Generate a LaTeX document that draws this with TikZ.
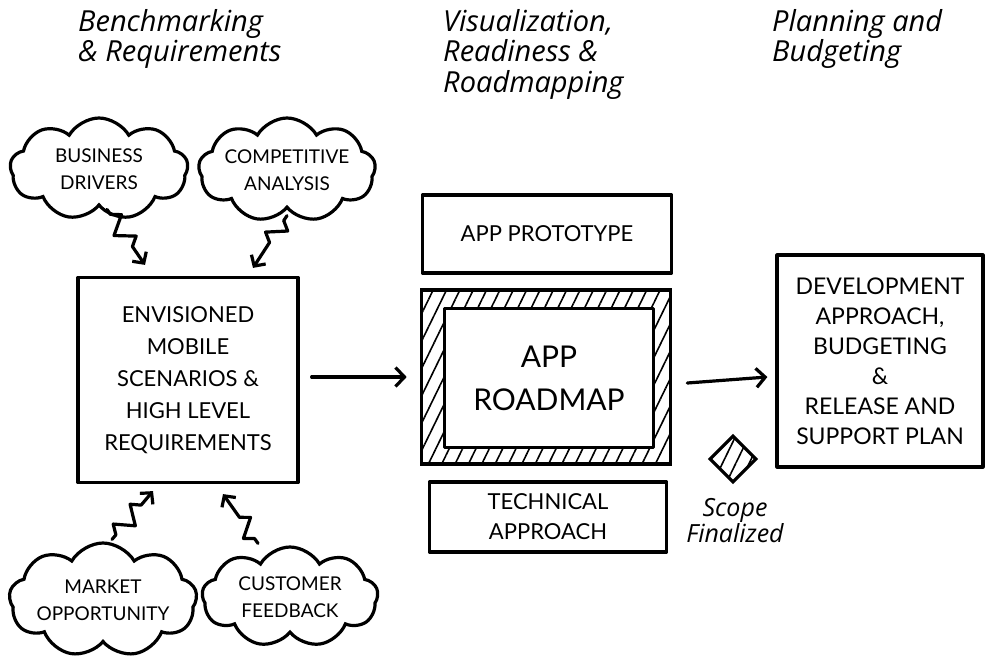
\documentclass[tikz,border=0pt]{standalone}
\usepackage{fontspec}
\setmainfont{Lato}
\newfontfamily\handfont{Open Sans}
\usepackage{tikz}
\usetikzlibrary{decorations.pathmorphing,arrows.meta,shapes.symbols,shapes.geometric,patterns.meta}

\tikzset{
  box/.style={draw,line width=3.2bp,line join=round,fill=white,align=center,inner sep=0pt,font=\fontsize{22bp}{32bp}\selectfont},
  idea/.style={draw,cloud,cloud puffs=9,cloud puff arc=120,cloud ignores aspect,line width=3.2bp,align=center,inner sep=0pt,font=\fontsize{19bp}{27bp}\selectfont},
  squig/.style={-{Straight Barb[length=8bp,width=17bp]},line width=3.2bp,line join=round,line cap=round,decorate,decoration={zigzag,segment length=26bp,amplitude=9bp,pre length=6bp,post length=18bp}},
  flow/.style={-{Straight Barb[length=9bp,width=19bp]},line width=3.2bp,line cap=round},
  phase/.style={anchor=north west,align=left,inner sep=0pt,font=\handfont\itshape\fontsize{29bp}{30.5bp}\selectfont},
  hatch/.style={pattern={Lines[angle=64,distance=12bp,line width=1.6bp]}}
}

\begin{document}
\begin{tikzpicture}
    \useasboundingbox (0,0) rectangle (987bp,-658bp);

    \node (ph1) at (78bp,-9bp)[phase] {Benchmarking\\\& Requirements};
    \node (ph2) at (443bp,-9bp)[phase] {Visualization,\\Readiness \&\\Roadmapping};
    \node (ph3) at (772bp,-9bp)[phase] {Planning and\\Budgeting};

    \node (bd) at (99bp,-169bp)[idea,minimum width=178bp,minimum height=102bp] {BUSINESS\\DRIVERS};
    \node (ca) at (287bp,-170bp)[idea,minimum width=168bp,minimum height=104bp] {COMPETITIVE\\ANALYSIS};
    \node (mo) at (103bp,-600bp)[idea,minimum width=178bp,minimum height=114bp] {MARKET\\OPPORTUNITY};
    \node (cf) at (290bp,-597bp)[idea,minimum width=176bp,minimum height=100bp] {CUSTOMER\\FEEDBACK};

    \node (env) at (188bp,-380bp)[box,minimum width=220bp,minimum height=205bp] {ENVISIONED\\MOBILE\\SCENARIOS \&\\HIGH LEVEL\\REQUIREMENTS};

    \node (proto) at (547bp,-234bp)[box,minimum width=249bp,minimum height=78bp] {APP PROTOTYPE};
    \node (frame) at (546bp,-377bp)[draw,line width=3.2bp,hatch,minimum width=249bp,minimum height=174bp] {};
    \node (map) at (549bp,-378bp)[box,minimum width=209bp,minimum height=139bp,font=\fontsize{30bp}{43bp}\selectfont] {APP\\ROADMAP};
    \node (tech) at (548bp,-517bp)[box,minimum width=237bp,minimum height=70bp,font=\fontsize{22bp}{30bp}\selectfont] {TECHNICAL\\APPROACH};

    \node (gate) at (733bp,-459bp)[draw,diamond,line width=3.2bp,hatch,minimum width=47bp,minimum height=47bp,inner sep=0pt] {};
    \node (scope) at (735bp,-521bp)[align=center,inner sep=0pt,font=\handfont\itshape\fontsize{25bp}{24bp}\selectfont] {Scope\\Finalized};

    \node (dev) at (880bp,-361bp)[box,minimum width=206bp,minimum height=212bp,font=\fontsize{23bp}{30bp}\selectfont] {DEVELOPMENT\\APPROACH,\\BUDGETING\\\&\\RELEASE AND\\SUPPORT PLAN};

    \draw [squig] ([xshift=8bp,yshift=-2bp]bd.south) to ([xshift=-43bp,yshift=11bp]env.north);
    \draw [squig] ([yshift=-6bp]ca.south) to ([xshift=65bp,yshift=8bp]env.north);
    \draw [squig] ([xshift=9bp,yshift=2bp]mo.north) to ([xshift=-35bp,yshift=-7bp]env.south);
    \draw [squig] ([xshift=-32bp,yshift=2bp]cf.north) to ([xshift=35bp,yshift=-10bp]env.south);

    \draw [flow] ([xshift=12bp,yshift=3bp]env.east) to ([xshift=-14bp]frame.west);
    \draw [flow] ([xshift=16bp,yshift=-6bp]frame.east) to ([xshift=-8bp,yshift=-16bp]dev.west);
\end{tikzpicture}
\end{document}
